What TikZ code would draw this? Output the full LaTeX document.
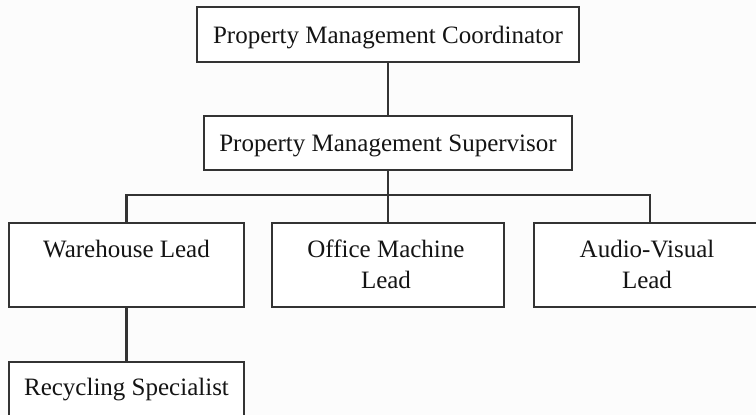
\documentclass[tikz,border=0pt]{standalone}
\usepackage{fontspec}
\setmainfont{Liberation Serif}
\definecolor{linegray}{HTML}{333333}
\definecolor{textblack}{HTML}{141414}
\definecolor{paper}{HTML}{FCFCFC}
\begin{document}
\begin{tikzpicture}[x=1pt,y=-1pt,
  box/.style={draw=linegray, line width=2.2pt, fill=white, rectangle, inner sep=0pt,
    font=\fontsize{25}{31}\selectfont, text=textblack},
  lbl/.style={font=\fontsize{25}{31}\selectfont, text=textblack, align=center, inner sep=0pt},
  link/.style={draw=linegray, line width=2.2pt}]
  % page area
  \useasboundingbox (0,0) rectangle (756,415);
  \clip (0,0) rectangle (756,415);
  \fill[paper] (0,0) rectangle (756,415);

  % boxes
  \node[box, minimum width=382pt, minimum height=55pt, text depth=0pt] (coord) at (388,34.5) {Property Management Coordinator};
  \node[box, minimum width=368pt, minimum height=54pt, text depth=0pt] (super) at (388,143) {Property Management Supervisor};
  \node[box, minimum width=235pt, minimum height=84pt] (ware) at (126.5,265) {};
  \node[box, minimum width=232pt, minimum height=84pt] (office) at (388,265) {};
  \node[box, minimum width=232pt, minimum height=84pt] (audio) at (650,265) {};
  \node[box, minimum width=235pt, minimum height=56pt] (recyc) at (126.5,390) {Recycling Specialist};

  % labels of the lead boxes (base = baseline of the last line)
  \node[lbl, anchor=base] (tware) at (126.5,257) {Warehouse Lead};
  \node[lbl, anchor=base] (toffice) at (386,288) {Office Machine\\Lead};
  \node[lbl, anchor=base] (taudio) at (647,288) {Audio-Visual\\Lead};

  % connectors
  \coordinate (bus) at (388,195);
  \draw[link] (coord.south) -- (super.north);
  \draw[link] (super.south) -- (office.north);
  \draw[link] (ware.north) |- (bus) -| (audio.north);
  \draw[link] (ware.south) -- (recyc.north);
\end{tikzpicture}
\end{document}
